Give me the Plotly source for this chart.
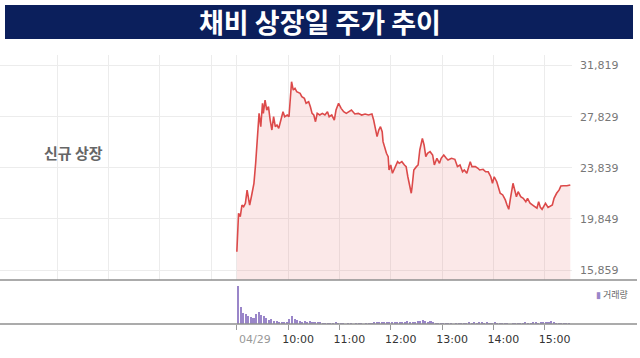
import plotly.graph_objects as go

# ---------------- data ----------------
title_text = "채비 상장일 주가 추이"
note_text = "신규 상장"
volume_label = "거래량"
date_label = "04/29"

price_times = [
    "09:00", "09:02", "09:04", "09:06", "09:08", "09:10", "09:12", "09:14", "09:15", "09:17",
    "09:20", "09:22", "09:24", "09:25", "09:26", "09:28", "09:30", "09:31", "09:33", "09:35",
    "09:37", "09:39", "09:41", "09:43", "09:45", "09:47", "09:49", "09:51", "09:52", "09:54",
    "09:56", "09:59", "10:01", "10:03", "10:04", "10:06", "10:08", "10:10", "10:14", "10:16",
    "10:19", "10:21", "10:24", "10:26", "10:28", "10:30", "10:32", "10:34", "10:37", "10:40",
    "10:43", "10:46", "10:48", "10:51", "10:54", "10:56", "10:59", "11:02", "11:05", "11:08",
    "11:14", "11:18", "11:22", "11:26", "11:30", "11:34", "11:38", "11:40", "11:44", "11:46",
    "11:48", "11:50", "11:51", "11:55", "11:57", "11:58", "12:00", "12:02", "12:05", "12:08",
    "12:10", "12:13", "12:16", "12:18", "12:20", "12:22", "12:24", "12:25", "12:27", "12:30",
    "12:32", "12:34", "12:37", "12:39", "12:41", "12:43", "12:46", "12:49", "12:51", "12:54",
    "12:57", "12:59", "13:02", "13:05", "13:07", "13:11", "13:15", "13:18", "13:21", "13:24",
    "13:26", "13:29", "13:31", "13:33", "13:35", "13:39", "13:42", "13:44", "13:48", "13:51",
    "13:54", "13:57", "13:59", "14:01", "14:04", "14:06", "14:08", "14:11", "14:14", "14:16",
    "14:18", "14:20", "14:22", "14:23", "14:25", "14:27", "14:29", "14:32", "14:35", "14:38",
    "14:40", "14:43", "14:46", "14:49", "14:51", "14:53", "14:55", "14:57", "15:00", "15:01",
    "15:04", "15:06", "15:09", "15:11", "15:14", "15:17", "15:19", "15:22", "15:26", "15:30",
]
prices = [
    17290, 20290, 20020, 20930, 20800, 21070, 22100, 21460, 20930, 21580,
    22630, 24190, 26270, 27180, 28090, 27050, 28880, 28090, 29130, 28350,
    28610, 27570, 26790, 27830, 27050, 27180, 26920, 27440, 27700, 28220,
    27830, 27960, 27830, 29390, 30560, 29910, 30050, 29780, 29650, 29390,
    29260, 28880, 29000, 28610, 28090, 27960, 27440, 28090, 27960, 28090,
    27960, 28220, 27830, 27960, 27570, 28350, 28880, 28480, 28220, 28090,
    28350, 28040, 28090, 27960, 28040, 27960, 28040, 27570, 26270, 26790,
    27050, 26660, 25880, 24970, 24710, 23670, 24060, 23410, 23930, 24320,
    24190, 24320, 24060, 23930, 23140, 22500, 21850, 22360, 23670, 23930,
    24060, 25230, 26140, 25620, 24710, 24970, 25100, 24840, 24060, 24580,
    24190, 24580, 24840, 24580, 24450, 24580, 24500, 23930, 24060, 23530,
    23670, 23410, 23800, 24320, 23930, 23930, 23800, 23670, 23720, 23530,
    23530, 23140, 22630, 23140, 22750, 22360, 21850, 21720, 21330, 20930,
    20600, 21460, 22500, 22630, 22110, 21580, 21970, 21580, 21460, 21190,
    21460, 21070, 20930, 20800, 20680, 21190, 20750, 20600, 20930, 21070,
    20750, 20800, 20930, 21460, 21850, 22110, 22420, 22440, 22440, 22500,
]

# volume in thousand shares, 3-minute buckets starting 09:00
volume_start = "09:00"
volume_bucket_min = 3
volume_k = [
    377, 170, 110, 97, 77, 70, 57, 103, 120, 93,
    80, 60, 43, 50, 27, 27, 17, 23, 23, 20,
    50, 83, 53, 40, 27, 23, 27, 20, 27, 20,
    23, 17, 13, 10, 8, 10, 6, 10, 18, 10,
    6, 4, 0, 5, 3, 0, 4, 6, 3, 0,
    5, 4, 8, 14, 22, 18, 25, 20, 16, 22,
    18, 15, 20, 24, 17, 22, 26, 20, 18, 23,
    30, 28, 38, 27, 22, 26, 18, 10, 6, 8,
    4, 9, 5, 7, 0, 6, 4, 8, 10, 6,
    12, 9, 14, 8, 11, 15, 9, 13, 7, 10,
    12, 6, 9, 5, 4, 7, 0, 8, 5, 6,
    10, 8, 12, 9, 7, 11, 14, 9, 12, 16,
    13, 20, 27, 12, 6, 9, 4, 7, 5, 8,
]

y_ticks = [15859, 19849, 23839, 27829, 31819]
# grid positions in trading minutes relative to 09:00 open (negatives = previous session)
x_grid_minutes = [-210, -150, -90, -30, 0, 60, 120, 180, 240, 300, 360]
hour_ticks = [60, 120, 180, 240, 300, 360]
hour_labels = ["10:00", "11:00", "12:00", "13:00", "14:00", "15:00"]

# ---------------- helpers ----------------
W, H = 640, 358


def to_min(t):
    h, m = map(int, t.split(":"))
    return (h - 9) * 60 + m


def py(px):
    return 1 - px / H


assert len(price_times) == len(prices)
price_x = [to_min(t) for t in price_times]
vol_x = [to_min(volume_start) + i * volume_bucket_min + volume_bucket_min / 2
         for i in range(len(volume_k))]

X_RANGE = [-277, 392]
x_dom = [0, 572 / W]

fig = go.Figure()
fig.add_trace(go.Scatter(
    x=price_x, y=prices, mode="lines",
    line=dict(color="#dc4a4a", width=1.6),
    fill="tozeroy", fillcolor="rgba(232,120,120,0.17)",
    xaxis="x", yaxis="y", hoverinfo="skip", showlegend=False,
))
fig.add_trace(go.Bar(
    x=vol_x, y=volume_k, width=2.4,
    marker=dict(color="#9a86c9", line=dict(width=0)),
    xaxis="x2", yaxis="y2", hoverinfo="skip", showlegend=False,
))
# same volume data attached to the date-label axis (invisible), so the axis renders
fig.add_trace(go.Scatter(
    x=vol_x[:1], y=volume_k[:1], mode="markers", opacity=0,
    xaxis="x3", yaxis="y2", hoverinfo="skip", showlegend=False,
))

grid_c = "#ececec"
fig.update_layout(
    width=W, height=H,
    margin=dict(l=0, r=0, t=0, b=0),
    paper_bgcolor="white", plot_bgcolor="white",
    bargap=0,
    xaxis=dict(domain=x_dom, range=X_RANGE, anchor="y",
               tickvals=x_grid_minutes, showticklabels=False, ticks="",
               showgrid=True, gridcolor=grid_c, gridwidth=1,
               zeroline=False, showline=False, fixedrange=True),
    yaxis=dict(domain=[py(280), py(55)], range=[15078, 32647], anchor="x",
               side="right", tickvals=y_ticks,
               ticktext=[f"{v:,}" for v in y_ticks],
               tickfont=dict(family="DejaVu Sans", size=11, color="#777777"),
               ticks="", ticklabelstandoff=7,
               showgrid=True, gridcolor=grid_c, gridwidth=1,
               zeroline=False, showline=False, fixedrange=True),
    xaxis2=dict(domain=x_dom, range=X_RANGE, anchor="y2",
                tickvals=[0] + hour_ticks, ticktext=[""] + hour_labels,
                ticks="outside", ticklen=5, tickwidth=1, tickcolor="#999999",
                ticklabelshift=10,
                tickfont=dict(family="DejaVu Sans", size=11, color="#333333"),
                showgrid=False, zeroline=False, showline=False, fixedrange=True),
    xaxis3=dict(overlaying="x2", range=X_RANGE, anchor="y2", side="bottom",
                tickvals=[0], ticktext=[date_label],
                ticks="outside", ticklen=5, tickcolor="rgba(0,0,0,0)",
                ticklabelshift=18,
                tickfont=dict(family="DejaVu Sans", size=11, color="#999999"),
                showgrid=False, zeroline=False, showline=False, fixedrange=True),
    yaxis2=dict(domain=[py(324), py(283)], range=[0, 410], anchor="x2",
                visible=False, fixedrange=True),
)

shapes = [
    dict(type="rect", xref="paper", yref="paper",
         x0=5 / W, x1=633 / W, y0=py(39), y1=py(5),
         fillcolor="#0b1f5c", line=dict(width=0)),
    dict(type="line", xref="paper", yref="paper",
         x0=0, x1=637 / W, y0=py(280), y1=py(280),
         line=dict(color="#8f8f8f", width=1.5)),
    dict(type="line", xref="paper", yref="paper",
         x0=0, x1=637 / W, y0=py(324), y1=py(324),
         line=dict(color="#8f8f8f", width=1.5)),
]
fig.update_layout(shapes=shapes)

fig.add_annotation(
    x=0.5, y=py(22), xref="paper", yref="paper", showarrow=False,
    text=f"<b>{title_text}</b>",
    font=dict(family="Noto Sans CJK KR", size=27, color="white"),
    xanchor="center", yanchor="middle",
)
fig.add_annotation(
    x=42 / W, y=py(152), xref="paper", yref="paper", showarrow=False,
    text=f"<b>{note_text}</b>",
    font=dict(family="Noto Sans CJK KR", size=15, color="#666666"),
    xanchor="left", yanchor="middle",
)
fig.add_annotation(
    x=594 / W, y=py(294), xref="paper", yref="paper", showarrow=False,
    text=f"<span style='color:#9a86c9'>▮</span> {volume_label}",
    font=dict(family="Noto Sans CJK KR", size=9, color="#666666"),
    xanchor="left", yanchor="middle",
)

fig.write_html("out.html")
